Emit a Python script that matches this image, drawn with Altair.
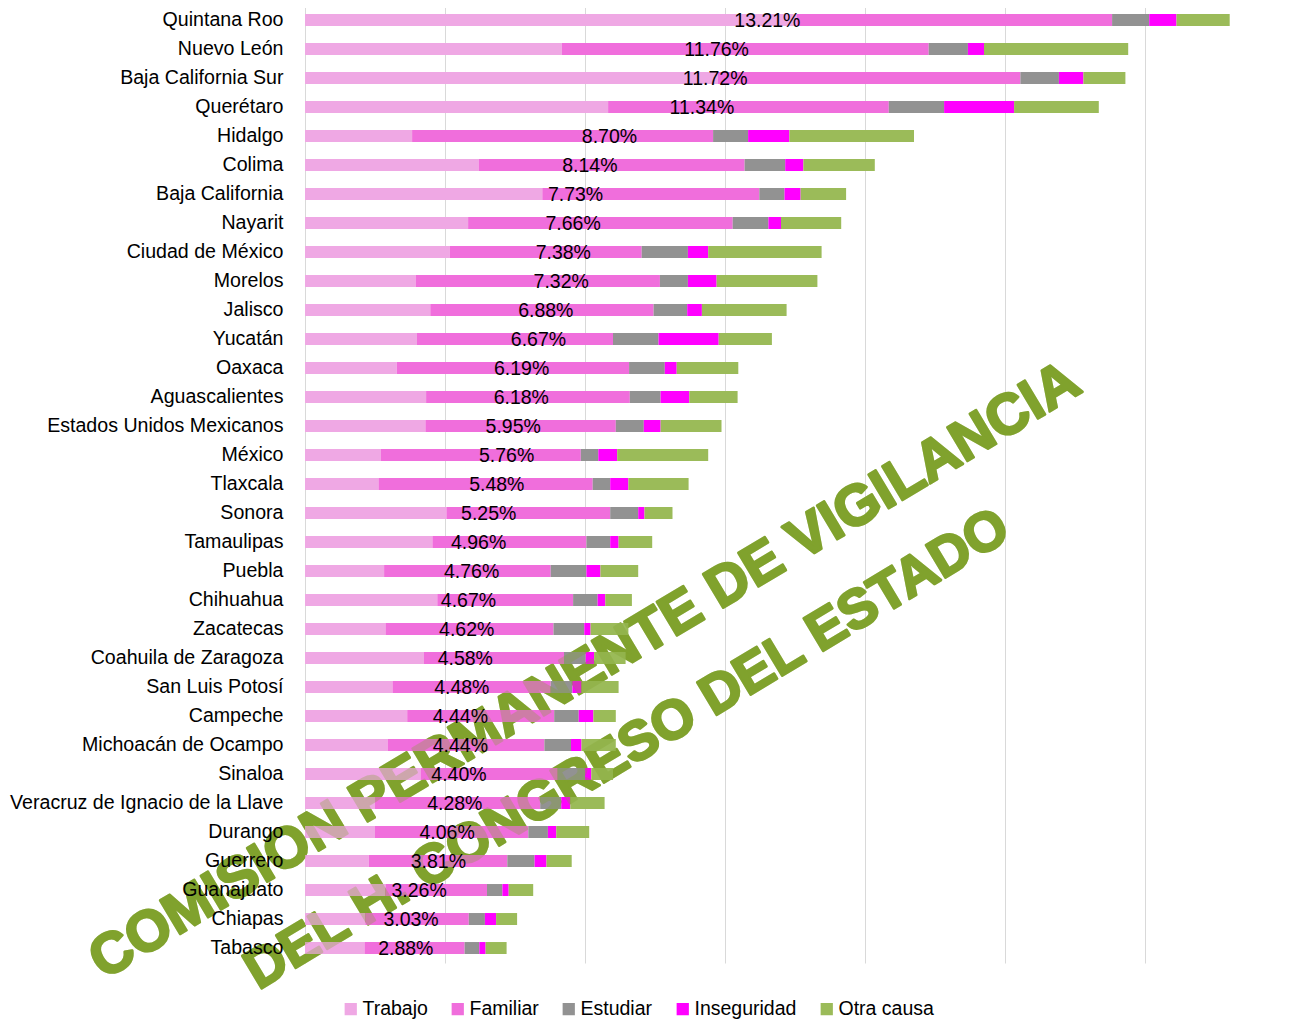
import altair as alt
import pandas as pd

FONT = "Liberation Sans, Arial, sans-serif"
WM_FONT = "Liberation Sans, Arial, sans-serif"

states = [
    "Quintana Roo", "Nuevo León", "Baja California Sur", "Querétaro", "Hidalgo",
    "Colima", "Baja California", "Nayarit", "Ciudad de México", "Morelos",
    "Jalisco", "Yucatán", "Oaxaca", "Aguascalientes", "Estados Unidos Mexicanos",
    "México", "Tlaxcala", "Sonora", "Tamaulipas", "Puebla", "Chihuahua",
    "Zacatecas", "Coahuila de Zaragoza", "San Luis Potosí", "Campeche",
    "Michoacán de Ocampo", "Sinaloa", "Veracruz de Ignacio de la Llave",
    "Durango", "Guerrero", "Guanajuato", "Chiapas", "Tabasco",
]
trabajo = [7.02, 3.67, 5.90, 4.33, 1.53, 2.48, 3.39, 2.33, 2.07, 1.58, 1.79, 1.60,
           1.31, 1.73, 1.72, 1.08, 1.05, 2.02, 1.82, 1.13, 1.89, 1.15, 1.70, 1.25,
           1.46, 1.18, 1.65, 1.00, 1.00, 0.91, 1.15, 0.86, 0.85]
familiar = [4.51, 5.24, 4.32, 4.01, 4.30, 3.80, 3.10, 3.78, 2.74, 3.49, 3.19, 2.80,
            3.32, 2.91, 2.72, 2.86, 3.06, 2.34, 2.20, 2.38, 1.94, 2.40, 2.00, 2.26,
            2.10, 2.24, 1.96, 2.36, 2.19, 1.98, 1.45, 1.48, 1.43]
estudiar = [0.53, 0.56, 0.55, 0.79, 0.50, 0.58, 0.36, 0.51, 0.66, 0.40, 0.48, 0.65,
            0.51, 0.44, 0.40, 0.25, 0.25, 0.40, 0.34, 0.51, 0.35, 0.44, 0.31, 0.31,
            0.35, 0.38, 0.39, 0.30, 0.28, 0.39, 0.22, 0.23, 0.21]
inseguridad = [0.39, 0.23, 0.35, 1.00, 0.59, 0.26, 0.23, 0.18, 0.29, 0.41, 0.21, 0.86,
               0.17, 0.41, 0.24, 0.27, 0.26, 0.09, 0.12, 0.20, 0.11, 0.09, 0.12, 0.13,
               0.21, 0.15, 0.09, 0.13, 0.12, 0.17, 0.09, 0.16, 0.09]
otra = [0.76, 2.06, 0.60, 1.21, 1.78, 1.02, 0.65, 0.86, 1.62, 1.44, 1.21, 0.76,
        0.88, 0.69, 0.87, 1.30, 0.86, 0.40, 0.48, 0.54, 0.38, 0.54, 0.45, 0.53,
        0.32, 0.49, 0.31, 0.49, 0.47, 0.36, 0.35, 0.30, 0.30]
totals = [13.21, 11.76, 11.72, 11.34, 8.70, 8.14, 7.73, 7.66, 7.38, 7.32, 6.88, 6.67,
          6.19, 6.18, 5.95, 5.76, 5.48, 5.25, 4.96, 4.76, 4.67, 4.62, 4.58, 4.48,
          4.44, 4.44, 4.40, 4.28, 4.06, 3.81, 3.26, 3.03, 2.88]

causes = ["Trabajo", "Familiar", "Estudiar", "Inseguridad", "Otra causa"]
colors = ["#EFA8E4", "#F06EDC", "#929292", "#FF00FF", "#9BBB59"]
grid_values = [0, 2, 4, 6, 8, 10, 12, 14]

wm_lines = ["COMISION PERMANENTE DE VIGILANCIA", "DEL H. CONGRESO DEL ESTADO"]
wm_x = [280, 322]
wm_y = [666, 744]
wm_size = [57, 55]
wm_angle = 329
wm_color = "#80A22D"

series = [trabajo, familiar, estudiar, inseguridad, otra]
rows = []
for i, s in enumerate(states):
    for k, c in enumerate(causes):
        rows.append({"estado": s, "causa": c, "orden": k, "valor": series[k][i]})
df = pd.DataFrame(rows)

lab = pd.DataFrame({
    "estado": states,
    "mitad": [t / 2 for t in totals],
    "texto": [f"{t:.2f}%" for t in totals],
})

y_enc = alt.Y(
    "estado:N", sort=states, title=None,
    scale=alt.Scale(paddingInner=0.587, paddingOuter=0.31),
    axis=alt.Axis(ticks=False, domain=False, labelPadding=22, labelFontSize=19.6,
                  labelFont=FONT, labelColor="black", labelLimit=600, zindex=1),
)
x_enc = alt.X(
    "valor:Q", stack="zero", title=None,
    scale=alt.Scale(domain=[0, 14], nice=False),
    axis=alt.Axis(labels=False, ticks=False, domain=False, values=grid_values,
                  grid=True, gridColor="#D9D9D9", gridWidth=1),
)

bars = alt.Chart(df).mark_bar().encode(
    x=x_enc,
    y=y_enc,
    color=alt.Color(
        "causa:N",
        scale=alt.Scale(domain=causes, range=colors),
        legend=alt.Legend(title=None, orient="none", legendX=36, legendY=994,
                          direction="horizontal", symbolType="square",
                          symbolSize=150, symbolStrokeWidth=0,
                          labelFontSize=19.5, labelFont=FONT, labelColor="black",
                          labelOffset=2, columnPadding=20, padding=0),
    ),
    order=alt.Order("orden:Q"),
)

pct = alt.Chart(lab).mark_text(
    font=FONT, fontSize=19.5, color="black", align="center", baseline="middle", dy=1
).encode(
    x=alt.X("mitad:Q"),
    y=alt.Y("estado:N", sort=states),
    text="texto:N",
)


def watermark(opacity):
    layers = []
    for line, px, py, fs in zip(wm_lines, wm_x, wm_y, wm_size):
        layers.append(
            alt.Chart(pd.DataFrame({"t": [line]})).mark_text(
                font=WM_FONT, fontSize=fs, fontWeight="bold", color=wm_color,
                stroke=wm_color, strokeWidth=2.5, strokeJoin="round",
                angle=wm_angle, align="center", baseline="middle", opacity=opacity,
            ).encode(x=alt.value(px), y=alt.value(py), text="t:N")
        )
    return layers


chart = alt.layer(
    *watermark(1.0), bars, *watermark(0.3), pct
).properties(
    width=980, height=958,
    autosize=alt.AutoSizeParams(type="none"),
    padding={"left": 297, "top": -3, "right": 0, "bottom": 56},
    background="white",
).configure_view(stroke=None)

chart.save("out.html", embed_options={"renderer": "svg", "actions": False})
